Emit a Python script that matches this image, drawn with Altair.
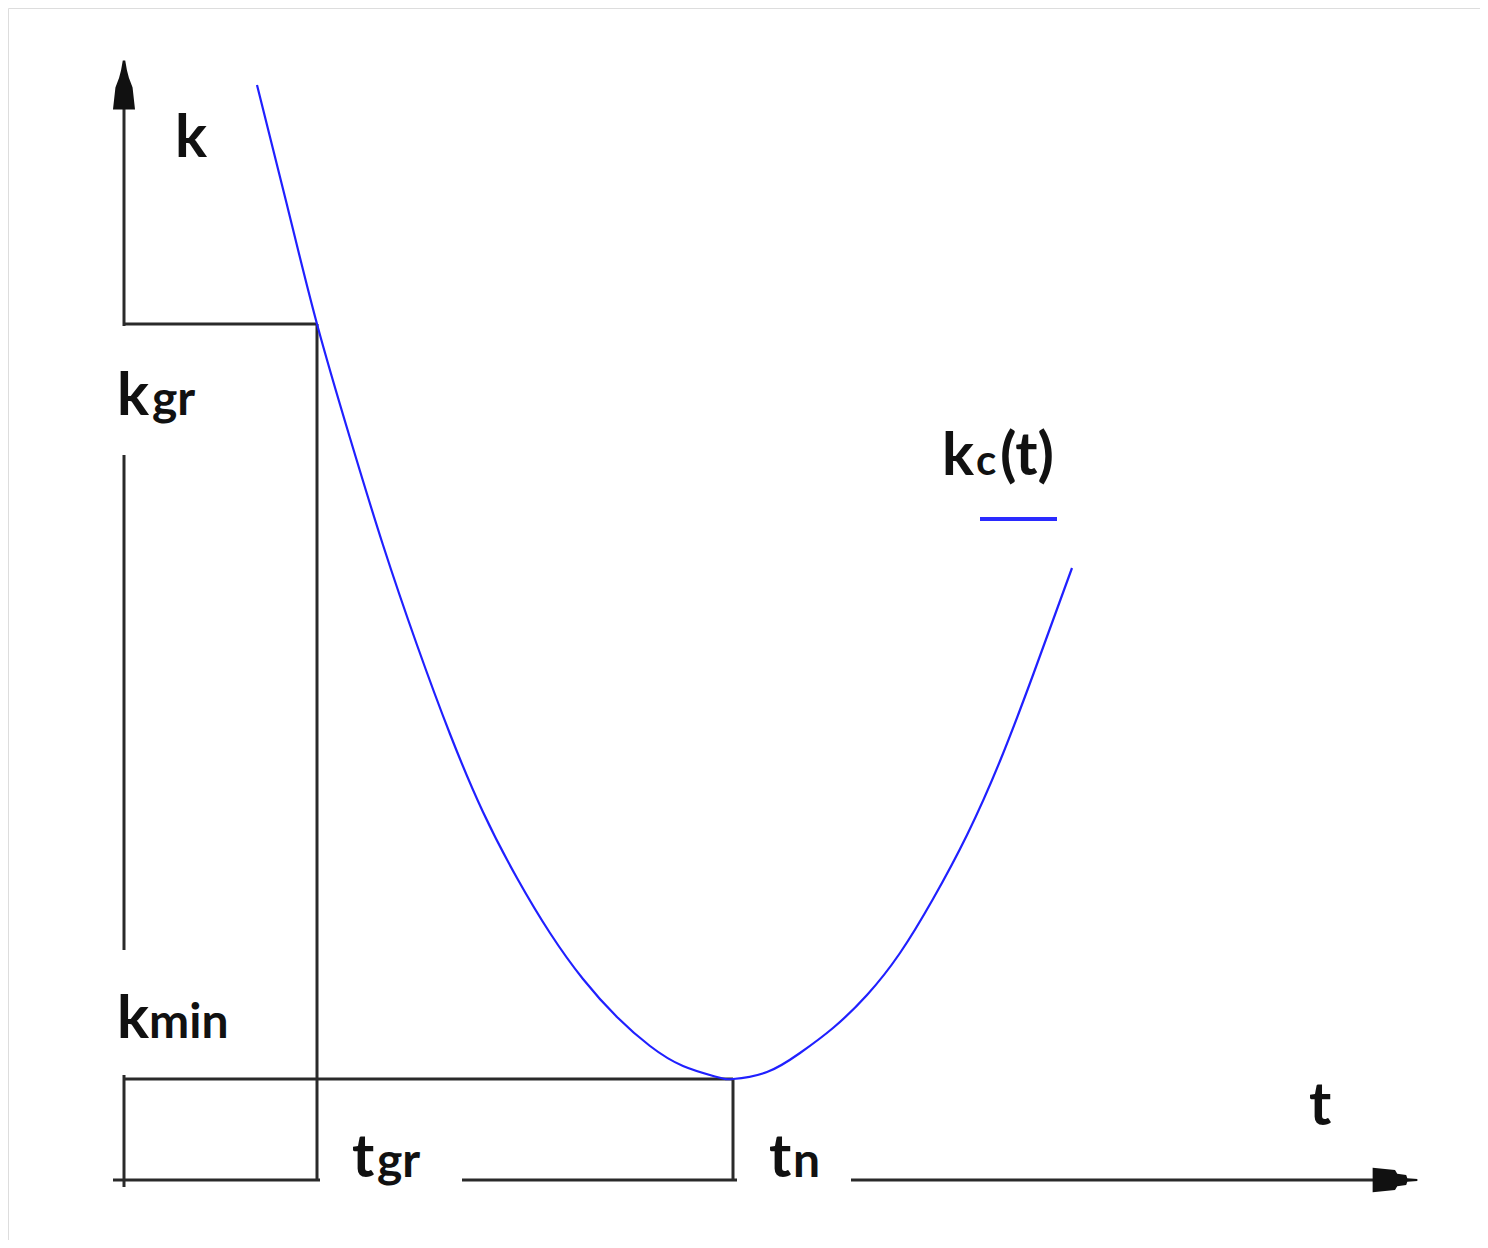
import altair as alt
import pandas as pd

# Curve k_c(t) (t, k in diagram units)
curve_t = [1.33, 1.63, 1.93, 2.26, 2.59, 2.93, 3.26, 3.59, 3.93, 4.26, 4.59, 4.93,
           5.26, 5.59, 5.93, 6.09, 6.43, 6.76, 7.09, 7.43, 7.76, 8.09, 8.43, 8.76,
           9.09, 9.48]
curve_k = [10.95, 9.75, 8.56, 7.42, 6.35, 5.35, 4.46, 3.68, 3.02, 2.47, 2.01, 1.63,
           1.34, 1.14, 1.03, 1.01, 1.08, 1.27, 1.52, 1.85, 2.27, 2.81, 3.45, 4.19,
           5.05, 6.12]

# Key levels
t_gr, t_n = 1.93, 6.09
k_gr, k_min = 8.56, 1.01

# Black line segments: (t1, k1, t2, k2)
seg_t1 = [0.0, 0.0, 0.0, 0.0, t_gr, 0.0, t_n, -0.11, 3.38, 7.27]
seg_k1 = [10.9, 7.25, 1.05, k_gr, k_gr, k_min, k_min, 0.0, 0.0, 0.0]
seg_t2 = [0.0, 0.0, 0.0, t_gr, t_gr, t_n, t_n, 1.96, 6.13, 12.60]
seg_k2 = [8.54, 2.30, -0.07, k_gr, 0.0, k_min, 0.0, 0.0, 0.0, 0.0]

# Labels: main letter + smaller suffix
lab_main = ["k", "k", "k", "t", "t", "t", "k", "(t)"]
lab_main_t = [0.51, -0.07, -0.07, 2.28, 6.45, 11.85, 8.18, 8.76]
lab_main_k = [10.23, 7.65, 1.42, 0.03, 0.03, 0.55, 7.05, 7.05]
lab_sub = ["gr", "min", "gr", "n", "c"]
lab_sub_t = [0.28, 0.25, 2.53, 6.69, 8.52]
lab_sub_k = [7.65, 1.42, 0.03, 0.03, 7.05]
lab_sub_size = [48, 48, 48, 48, 42]

# Legend dash
leg_t1, leg_t2, leg_k = 8.56, 9.33, 6.61

# Arrow heads on the axes
arrow_t = [0.0, 12.71]
arrow_k = [10.95, 0.0]
arrow_path = [
    "M-0.45,1 L-0.35,0.1 L-0.2,-0.3 L-0.12,-0.6 L-0.05,-1 L0.05,-1 L0.12,-0.6 L0.2,-0.3 L0.35,0.1 L0.45,1 Z",
    "M-1,-0.55 L0,-0.45 L0.1,-0.28 L0.5,-0.22 L0.55,-0.08 L1,-0.05 L1,0.05 L0.55,0.08 L0.5,0.22 L0.1,0.28 L0,0.45 L-1,0.55 Z",
]
arrow_size = [2400, 2000]

xs = alt.Scale(domain=[-1.16, 13.56], nice=False, zero=False)
ys = alt.Scale(domain=[-0.6, 11.72], nice=False, zero=False)

curve_df = pd.DataFrame({"t": curve_t, "k": curve_k})
seg_df = pd.DataFrame({"t1": seg_t1, "k1": seg_k1, "t2": seg_t2, "k2": seg_k2})
main_df = pd.DataFrame({"label": lab_main, "t": lab_main_t, "k": lab_main_k})
sub_df = pd.DataFrame({"label": lab_sub, "t": lab_sub_t, "k": lab_sub_k, "fs": lab_sub_size})
leg_df = pd.DataFrame({"t1": [leg_t1], "t2": [leg_t2], "k": [leg_k]})
arrow_df = pd.DataFrame({"t": arrow_t, "k": arrow_k, "shape": arrow_path, "size": arrow_size})

segs = alt.Chart(seg_df).mark_rule(color="#2a2a2a", strokeWidth=3, strokeCap="butt").encode(
    x=alt.X("t1:Q", scale=xs, axis=None),
    y=alt.Y("k1:Q", scale=ys, axis=None),
    x2="t2:Q",
    y2="k2:Q",
)

arrows = alt.Chart(arrow_df).mark_point(filled=True, color="#111111", opacity=1, strokeWidth=0).encode(
    x=alt.X("t:Q", scale=xs, axis=None),
    y=alt.Y("k:Q", scale=ys, axis=None),
    shape=alt.Shape("shape:N", scale=None, legend=None),
    size=alt.Size("size:Q", scale=None, legend=None),
)

line = alt.Chart(curve_df).mark_line(color="#2020ff", strokeWidth=2.2, interpolate="natural").encode(
    x=alt.X("t:Q", scale=xs, axis=None),
    y=alt.Y("k:Q", scale=ys, axis=None),
    order="t:Q",
)

leg = alt.Chart(leg_df).mark_rule(color="#2a2aff", strokeWidth=4).encode(
    x=alt.X("t1:Q", scale=xs, axis=None),
    x2="t2:Q",
    y=alt.Y("k:Q", scale=ys, axis=None),
)

main_text = alt.Chart(main_df).mark_text(
    font="Lato", fontWeight="bold", fontSize=60, align="left", baseline="alphabetic", color="#111111"
).encode(
    x=alt.X("t:Q", scale=xs, axis=None),
    y=alt.Y("k:Q", scale=ys, axis=None),
    text="label:N",
)

sub_text = alt.Chart(sub_df).mark_text(
    font="Lato", fontWeight="bold", align="left", baseline="alphabetic", color="#111111"
).encode(
    x=alt.X("t:Q", scale=xs, axis=None),
    y=alt.Y("k:Q", scale=ys, axis=None),
    text="label:N",
    size=alt.Size("fs:Q", scale=None, legend=None),
)

chart = alt.layer(segs, line, leg, arrows, main_text, sub_text).properties(
    width=1472, height=1232, padding=0, autosize=alt.AutoSizeParams(type="none")
).configure_view(strokeWidth=0).configure(background="white")

chart.save("out.html", embed_options={"renderer": "svg", "actions": False})
